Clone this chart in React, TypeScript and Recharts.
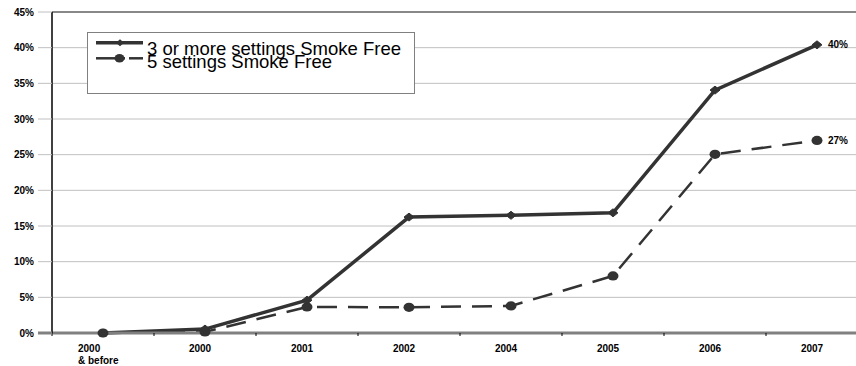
import React from "react";
import { LineChart, Line, XAxis, YAxis, CartesianGrid, ReferenceLine, LabelList } from "recharts";

const categories = ["2000\n& before", "2000", "2001", "2002", "2004", "2005", "2006", "2007"];
const threeOrMore = [0, 0.55, 4.6, 16.25, 16.5, 16.85, 34.05, 40.4];
const fiveSettings = [0, 0.15, 3.65, 3.6, 3.8, 8.0, 25.05, 27.0];
const yTicks = [0, 5, 10, 15, 20, 25, 30, 35, 40, 45];
const seriesNames = ["3 or more settings Smoke Free", "5 settings Smoke Free"];
const endLabels = ["40%", "27%"];

const data = categories.map((c, i) => ({ cat: c, a: threeOrMore[i], b: fiveSettings[i] }));

const FONT = '"Liberation Sans", Arial, sans-serif';
const CHART_W = 868;
const CHART_H = 366;
const Y_AXIS_W = 52;
const HALF_BAND = (CHART_W - Y_AXIS_W) / categories.length / 2;
const LINE_COLOR = "#333333";

const YTick = (props: any) => {
  const { x, y, payload } = props;
  return (
    <g>
      {payload.value === 0 ? (
        <line x1={x + 4} x2={x + 18} y1={y} y2={y} stroke="#808080" strokeWidth={3} />
      ) : null}
      <text x={x} y={y} dy={3.5} textAnchor="end" fontFamily={FONT} fontSize={10} fontWeight="bold" fill="#000">
        {payload.value + "%"}
      </text>
    </g>
  );
};

const XTick = (props: any) => {
  const { x, y, payload } = props;
  const lines = String(payload.value).split("\n");
  return (
    <g>
      <line x1={x - HALF_BAND} x2={x - HALF_BAND} y1={y} y2={y + 3} stroke="#000" strokeWidth={1} />
      {lines.length > 1 ? (
        lines.map((l, i) => (
          <text key={i} x={x - 25} y={y + 18.5 + i * 12.5} textAnchor="start" fontFamily={FONT} fontSize={10} fontWeight="bold" fill="#000">
            {l}
          </text>
        ))
      ) : (
        <text x={x - 5} y={y + 18.5} textAnchor="middle" fontFamily={FONT} fontSize={10} fontWeight="bold" fill="#000">
          {lines[0]}
        </text>
      )}
    </g>
  );
};

const Diamond = (props: any) => {
  const { cx, cy, index } = props;
  if (cx == null || cy == null) return <g key={"d" + index} />;
  return (
    <path key={"d" + index} d={`M${cx - 5},${cy} L${cx},${cy - 4} L${cx + 5},${cy} L${cx},${cy + 4} Z`} fill={LINE_COLOR} stroke={LINE_COLOR} strokeWidth={1} />
  );
};

const Dot = (props: any) => {
  const { cx, cy, index } = props;
  if (cx == null || cy == null) return <g key={"c" + index} />;
  return <ellipse key={"c" + index} cx={cx} cy={cy} rx={5.5} ry={4.6} fill={LINE_COLOR} />;
};

const makeEndLabel = (text: string) => (props: any) => {
  const { x, y, index } = props;
  if (index !== categories.length - 1) return null;
  return (
    <text x={x + 11} y={y + 3.5} fontFamily={FONT} fontSize={10} fontWeight="bold" fill="#000">
      {text}
    </text>
  );
};

const LegendBox = () => (
  <div style={{ position: "absolute", left: 87, top: 32, width: 328, height: 62, border: "1px solid #808080", background: "#fff", boxSizing: "border-box" }}>
    <svg width={326} height={60} style={{ display: "block" }}>
      <line x1={8} x2={55} y1={9.7} y2={9.7} stroke={LINE_COLOR} strokeWidth={3.5} />
      <path d="M28,9.7 L32,6.2 L36,9.7 L32,13.2 Z" fill={LINE_COLOR} />
      <text x={59} y={22} fontFamily={FONT} fontSize={18.5} fill="#000">{seriesNames[0]}</text>
      <line x1={8} x2={37} y1={25.3} y2={25.3} stroke={LINE_COLOR} strokeWidth={2.5} />
      <line x1={41} x2={55} y1={25.3} y2={25.3} stroke={LINE_COLOR} strokeWidth={2.5} />
      <ellipse cx={31.5} cy={25.3} rx={5} ry={4.3} fill={LINE_COLOR} />
      <text x={59} y={35.3} fontFamily={FONT} fontSize={18.5} fill="#000">{seriesNames[1]}</text>
    </svg>
  </div>
);

export default function App() {
  return (
    <div style={{ position: "fixed", left: 0, top: 0, width: 856, height: 366, overflow: "hidden", background: "#fff" }}>
      <LineChart width={CHART_W} height={CHART_H} data={data} margin={{ top: 12, right: 0, bottom: 0, left: 0 }}>
        <CartesianGrid horizontal={true} vertical={false} stroke="#c0c0c0" strokeWidth={1} />
        <ReferenceLine y={45} stroke="#888888" strokeWidth={2} />
        <XAxis
          dataKey="cat"
          height={33}
          interval={0}
          padding={{ left: HALF_BAND, right: HALF_BAND }}
          tickLine={false}
          tickSize={0}
          tickMargin={0}
          axisLine={{ stroke: "#808080", strokeWidth: 3 }}
          tick={<XTick />}
        />
        <YAxis
          width={Y_AXIS_W}
          domain={[0, 45]}
          ticks={yTicks}
          interval={0}
          tickSize={14}
          tickMargin={4}
          tickLine={{ stroke: "#c0c0c0" }}
          axisLine={{ stroke: "#000", strokeWidth: 1.5 }}
          tick={<YTick />}
        />
        <Line
          type="linear"
          dataKey="b"
          name={seriesNames[1]}
          stroke={LINE_COLOR}
          strokeWidth={2.5}
          strokeDasharray="20 11"
          dot={Dot}
          activeDot={false}
          isAnimationActive={false}
        >
          <LabelList dataKey="b" content={makeEndLabel(endLabels[1])} />
        </Line>
        <Line
          type="linear"
          dataKey="a"
          name={seriesNames[0]}
          stroke={LINE_COLOR}
          strokeWidth={3.5}
          dot={Diamond}
          activeDot={false}
          isAnimationActive={false}
        >
          <LabelList dataKey="a" content={makeEndLabel(endLabels[0])} />
        </Line>
      </LineChart>
      <LegendBox />
    </div>
  );
}
